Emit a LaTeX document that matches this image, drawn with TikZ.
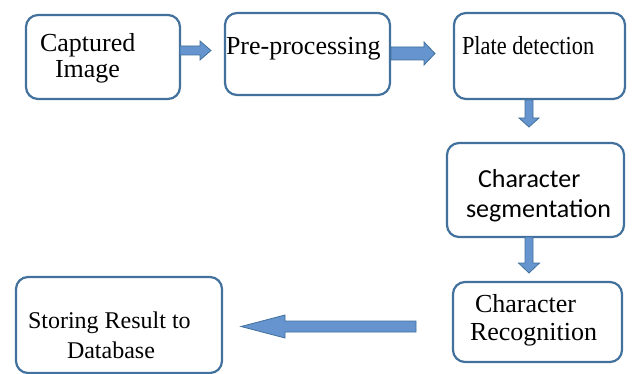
\documentclass[tikz,border=0pt]{standalone}
\usepackage{fontspec}
\setmainfont{Liberation Serif}
\newfontfamily\calibrilike{Carlito}
\usetikzlibrary{calc}

\definecolor{boxline}{HTML}{41719C}
\definecolor{arrowfill}{HTML}{6694CF}
\definecolor{arrowline}{HTML}{41719C}

% block arrow: start, tip, half shaft width, half head width, head length
\newcommand{\blockarr}[5]{%
  \coordinate (bahead) at ($(#2)!#5!(#1)$);
  \filldraw[blockarrow] ($(#1)!#3!90:(#2)$) -- ($(bahead)!#3!90:(#2)$)
    -- ($(bahead)!#4!90:(#2)$) -- (#2) -- ($(bahead)!#4!-90:(#2)$)
    -- ($(bahead)!#3!-90:(#2)$) -- ($(#1)!#3!-90:(#2)$) -- cycle;}

\tikzset{
  stagebox/.style={draw=boxline, line width=2.2pt, rounded corners=12pt,
    fill=white, inner sep=0pt, outer sep=0pt},
  label26/.style={anchor=base west, inner sep=0pt, outer sep=0pt,
    font=\fontsize{26}{30}\selectfont},
  label24/.style={anchor=base west, inner sep=0pt, outer sep=0pt,
    font=\fontsize{24}{28}\selectfont},
  blockarrow/.style={fill=arrowfill, draw=arrowline, line width=0.8pt,
    line join=miter},
}

\begin{document}
\begin{tikzpicture}[x=1pt, y=-1pt]
  \useasboundingbox[fill=white] (0,0) rectangle (634,374);

  % processing stages
  \node[stagebox, minimum width=154pt, minimum height=84pt] (b1) at (103,57) {};
  \node[stagebox, minimum width=165pt, minimum height=82pt] (b2) at (307.5,54) {};
  \node[stagebox, minimum width=171pt, minimum height=86pt] (b3) at (539.5,56) {};
  \node[stagebox, minimum width=177pt, minimum height=94pt] (b4) at (535.5,190) {};
  \node[stagebox, minimum width=169pt, minimum height=80pt] (b5) at (537.5,322) {};
  \node[stagebox, minimum width=206pt, minimum height=96pt] (b6) at (119,325) {};

  % stage texts
  \node[label26] (t1a) at (40,52) {Captured};
  \node[label26] (t1b) at (55,78) {Image};
  \node[label26] (t2) at (226,55) {Pre-processing};
  \node[label26] (t3) at (462,55) {\scalebox{0.86}[1]{Plate detection}};
  \node[label26, font=\fontsize{26}{30}\selectfont\calibrilike] (t4a) at (478,187) {Character};
  \node[label26, font=\fontsize{26}{30}\selectfont\calibrilike] (t4b) at (466,217) {segmentation};
  \node[label26] (t5a) at (475,312) {Character};
  \node[label26] (t5b) at (470,340) {Recognition};
  \node[label24] (t6a) at (28,328) {Storing Result to};
  \node[label24] (t6b) at (67,358) {Database};

  % arrow end points
  \coordinate (a1s) at ($(b1.east)+(0,-6.5)$);
  \coordinate (a1t) at ($(b2.west)+(-14,-3.5)$);
  \coordinate (a2s) at ($(b2.east)+(1,-0.5)$);
  \coordinate (a2t) at ($(b3.west)+(-19,-2.5)$);
  \coordinate (a3s) at ($(b3.south)+(-10.5,1)$);
  \coordinate (a3t) at ($(b4.north)+(-6.5,-16)$);
  \coordinate (a4s) at ($(b4.south)+(-6.5,0)$);
  \coordinate (a4t) at ($(b5.north)+(-8.5,-9)$);
  \coordinate (a5s) at ($(b5.west)+(-37,4.5)$);
  \coordinate (a5t) at ($(b6.east)+(19,1.5)$);

  % flow arrows
  \blockarr{a1s}{a1t}{4.5pt}{9.5pt}{11pt}
  \blockarr{a2s}{a2t}{6.5pt}{11.5pt}{11pt}
  \blockarr{a3s}{a3t}{4pt}{10pt}{9pt}
  \blockarr{a4s}{a4t}{4pt}{10.5pt}{10pt}
  \blockarr{a5s}{a5t}{5.5pt}{11.5pt}{44pt}
\end{tikzpicture}
\end{document}
